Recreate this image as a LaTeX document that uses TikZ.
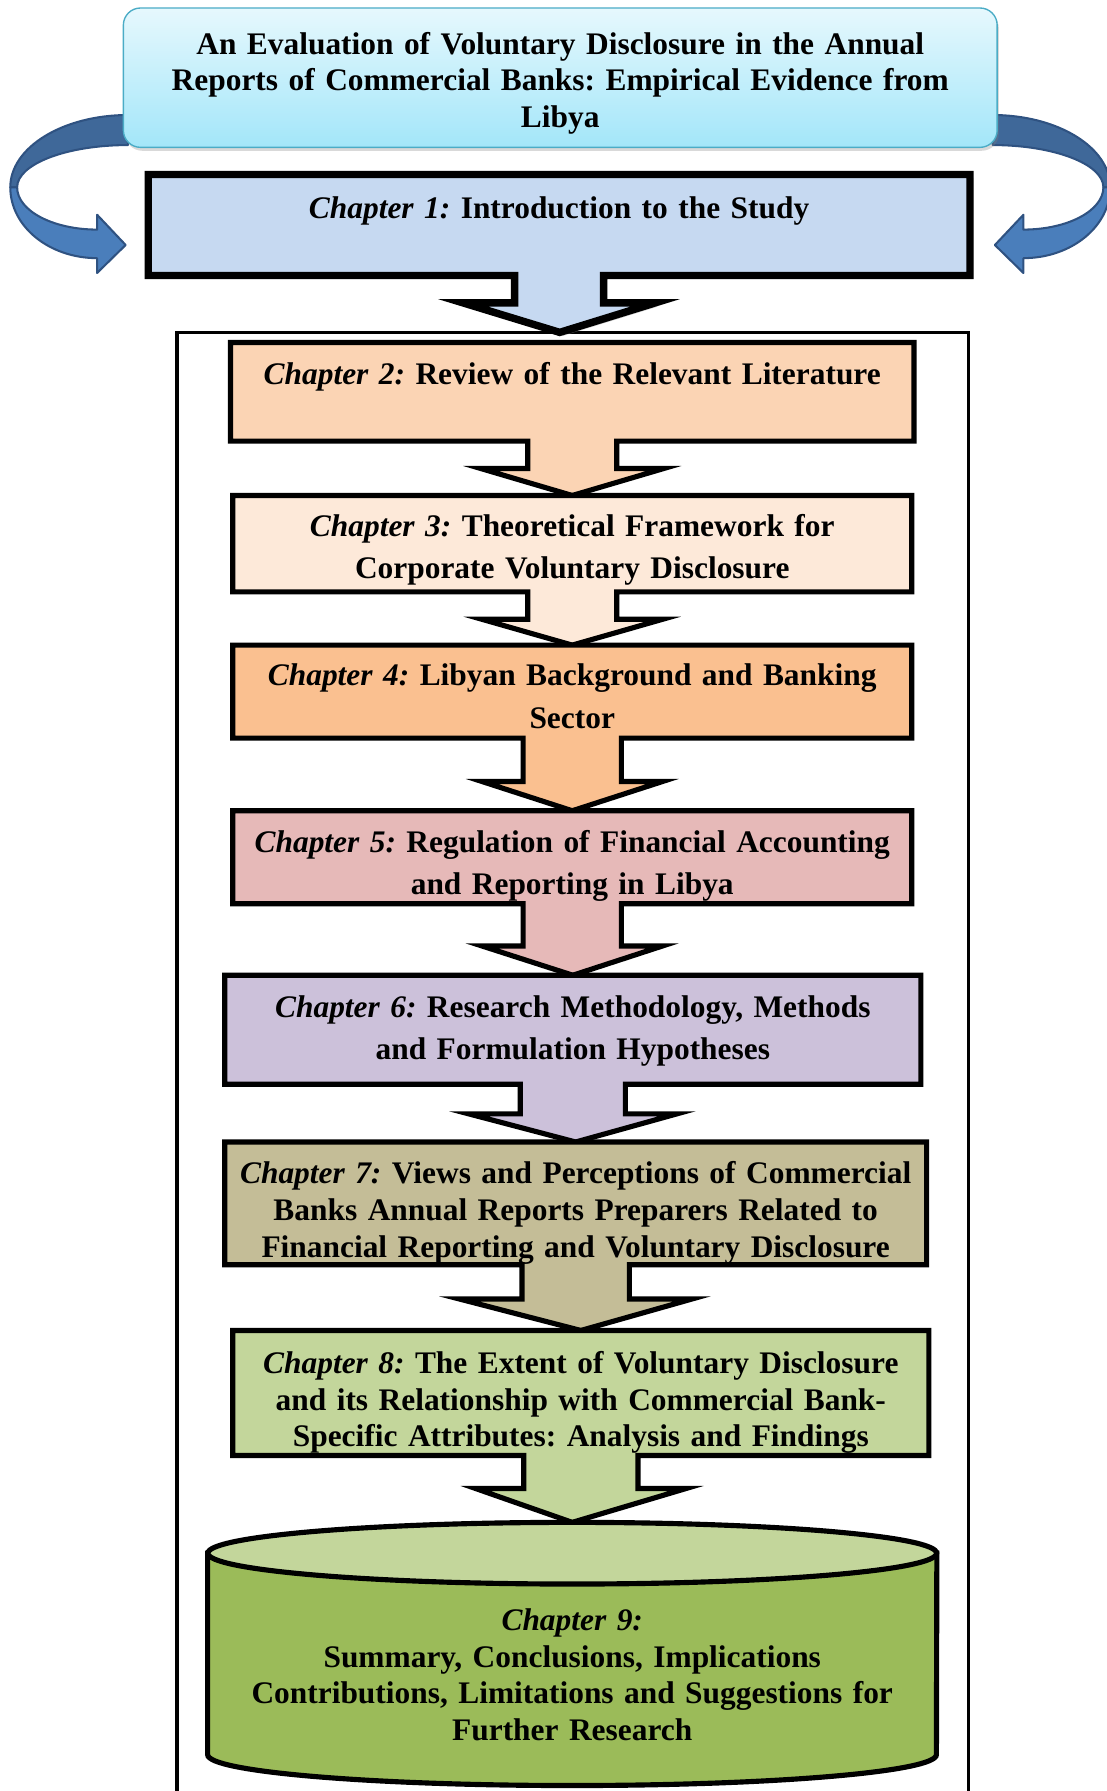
\documentclass[tikz,border=0pt]{standalone}
\usepackage{fontspec}
\setmainfont{Liberation Serif}
\usepackage{tikz}
\usetikzlibrary{calc,backgrounds,shadows}

\definecolor{titletop}{HTML}{E6F8FD}
\definecolor{titlebot}{HTML}{A3E6F9}
\definecolor{titleline}{HTML}{4BACC6}
\definecolor{c1col}{HTML}{C6D9F1}
\definecolor{c2col}{HTML}{FBD4B4}
\definecolor{c3col}{HTML}{FDE9D9}
\definecolor{c4col}{HTML}{FAC090}
\definecolor{c5col}{HTML}{E6B9B8}
\definecolor{c6col}{HTML}{CCC1DA}
\definecolor{c7col}{HTML}{C4BD97}
\definecolor{c8col}{HTML}{C3D69B}
\definecolor{c9col}{HTML}{9BBB59}
\definecolor{blueback}{HTML}{3F6899}
\definecolor{bluefront}{HTML}{4A7EBB}
\definecolor{blueline}{HTML}{2F5281}

\newcommand{\chaplabel}[1]{\textit{#1}}
\frenchspacing

\begin{document}
\begin{tikzpicture}[x=1pt, y=-1pt,
    titlebox/.style={rectangle, rounded corners=15pt, draw=titleline, line width=1.2pt,
      top color=titletop, bottom color=titlebot,
      drop shadow={shadow xshift=1.5pt, shadow yshift=-3pt, opacity=0.3},
      inner sep=0pt, align=center, font=\fontsize{27.5}{32}\selectfont\bfseries},
    chapter/.style={rectangle, inner sep=0pt, align=center, text width=#1pt, minimum width=#1pt,
      font=\fontsize{27.5}{32}\selectfont\bfseries},
    loose/.style={font=\fontsize{27.5}{37}\selectfont\bfseries},
    calloutbox/.style={draw=black, line width=4.5pt, fill=#1col},
    ribbon/.style={draw=blueline, line width=1.8pt, line join=round},
    outerframe/.style={draw=black, line width=3pt},
    cylside/.style={draw=black, line width=4.5pt}]

    \useasboundingbox (0,0) rectangle (969,1568);

    % box with its down arrow: box, tip, shaft half width, head half width, shaft length, extra
    \def\chapcallout#1#2#3#4#5#6{%
      \draw[calloutbox=#1, #6] (#1.north west) -- (#1.north east) -- (#1.south east)
        -- ($(#1.south)+(#3,0)$) -- ++(0,#5) -- ($(#1.south)+(#4,#5)$) -- (#2)
        -- ($(#1.south)+(-#4,#5)$) -- ($(#1.south)+(-#3,#5)$) -- ($(#1.south)+(-#3,0)$)
        -- (#1.south west) -- cycle;}

    % thesis title
    \node[titlebox, text width=760pt, minimum width=765pt, minimum height=122pt,
      text height=29pt, text depth=70pt] (title) at (490.5,68)
      {An Evaluation of Voluntary Disclosure in the Annual\\
       Reports of Commercial Banks: Empirical Evidence from\\ Libya};

    % chapters
    \node[chapter=719, minimum height=88pt, text height=19pt, text depth=30pt] (c1) at (489.5,197)
      {\chaplabel{Chapter 1:} Introduction to the Study};
    \node[chapter=598, minimum height=86pt, text height=19pt, text depth=32pt] (c2) at (501,343)
      {\chaplabel{Chapter 2:} Review of the Relevant Literature};
    \node[chapter=594, loose, minimum height=84pt, text height=30pt, text depth=43pt] (c3) at (501,476)
      {\chaplabel{Chapter 3:} Theoretical Framework for\\ Corporate Voluntary Disclosure};
    \node[chapter=594, loose, minimum height=81pt, text height=27pt, text depth=37pt] (c4) at (501,605.5)
      {\chaplabel{Chapter 4:} Libyan Background and Banking\\ Sector};
    \node[chapter=594, loose, minimum height=81pt, text height=34pt, text depth=43pt] (c5) at (501,750.5)
      {\chaplabel{Chapter 5:} Regulation of Financial Accounting\\ and Reporting in Libya};
    \node[chapter=609, loose, minimum height=95pt, text height=21pt, text depth=43pt] (c6) at (501.5,901.5)
      {\chaplabel{Chapter 6:} Research Methodology, Methods\\ and Formulation Hypotheses};
    \node[chapter=614, minimum height=107pt, text height=36pt, text depth=70pt] (c7) at (504,1053.5)
      {\chaplabel{Chapter 7:} Views and Perceptions of Commercial\\
       Banks Annual Reports Preparers Related to\\ Financial Reporting and Voluntary Disclosure};
    \node[chapter=609, minimum height=109pt, text height=36pt, text depth=70pt] (c8) at (508.5,1219.5)
      {\chaplabel{Chapter 8:} The Extent of Voluntary Disclosure\\
       and its Relationship with Commercial Bank-\\ Specific Attributes: Analysis and Findings};
    \node[chapter=638, minimum height=230pt, text height=55pt, text depth=96pt] (c9) at (501,1448)
      {\chaplabel{Chapter 9:}\\ Summary, Conclusions, Implications\\
       Contributions, Limitations and Suggestions for\\ Further Research};

    \coordinate (frametop) at (490,291);

    \begin{scope}[on background layer]
      % frame round chapters 2 to 9
      \draw[outerframe] (155,1575) |- (frametop) -| (848,1575);

      % curved arrows from the title to chapter 1
      \foreach \side/\shift in {1/0, -1/981} {
        \begin{scope}[xshift=\shift pt, xscale=\side]
          \draw[ribbon, fill=blueback] (112,100.7) arc[start angle=270, end angle=180, x radius=103, y radius=63.3]
            -- (15,164) arc[start angle=180, end angle=270, x radius=97, y radius=37] -- cycle; % back of ribbon
          \draw[ribbon, fill=bluefront] (9,164) arc[start angle=180, end angle=90, x radius=76, y radius=62]
            -- (85,239) -- (110,214.5) -- (85,188) -- (85,201)
            arc[start angle=90, end angle=180, x radius=70, y radius=37] -- cycle; % front with head
        \end{scope}
      }

      % chapter boxes with their arrows
      \chapcallout{c1}{frametop}{39}{84}{24}{line width=6.5pt, drop shadow={shadow xshift=3pt, shadow yshift=-3pt, opacity=0.4}}
      \chapcallout{c2}{c3.north}{39}{80}{24}{}
      \chapcallout{c3}{c4.north}{39}{79}{24}{}
      \chapcallout{c4}{c5.north}{43}{79}{38}{}
      \chapcallout{c5}{c6.north}{43}{79}{37}{}
      \chapcallout{c6}{c7.north}{46}{91}{26}{}
      \chapcallout{c7}{c8.north}{47}{102}{30}{}
      \chapcallout{c8}{c9.north}{50}{92}{29}{}

      % cylinder for chapter 9
      \draw[cylside, fill=c9col] ($(c9.north west)+(0,27)$) -- ($(c9.south west)+(0,-27)$)
        arc[start angle=180, end angle=0, x radius=319, y radius=27] -- ($(c9.north east)+(0,27)$) -- cycle;
      \draw[cylside, fill=c8col] ($(c9.north)+(0,27)$) ellipse[x radius=319, y radius=27];
    \end{scope}

\end{tikzpicture}
\end{document}
